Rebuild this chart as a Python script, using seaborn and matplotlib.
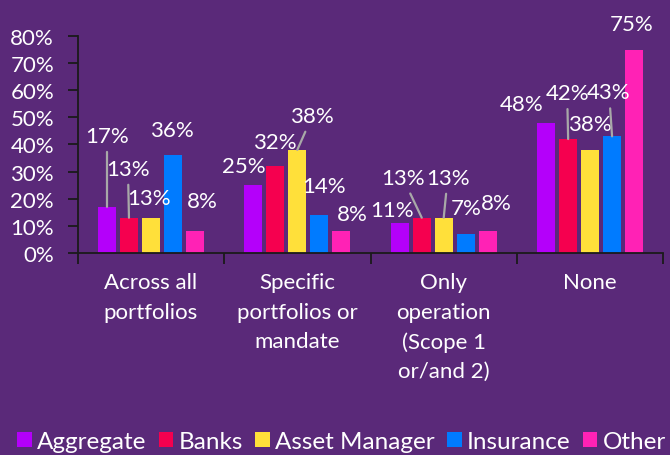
import matplotlib
matplotlib.use('Agg')
import matplotlib.pyplot as plt
import pandas as pd
import seaborn as sns

# data
categories = ['Across all\nportfolios', 'Specific\nportfolios or\nmandate',
              'Only\noperation\n(Scope 1\nor/and 2)', 'None']
series = ['Aggregate', 'Banks', 'Asset Manager', 'Insurance', 'Other']
aggregate = [17, 25, 11, 48]
banks = [13, 32, 13, 42]
asset_manager = [13, 38, 13, 38]
insurance = [36, 14, 7, 43]
other = [8, 8, 8, 75]
y_ticks = [0, 10, 20, 30, 40, 50, 60, 70, 80]

colors = ['#B400FA', '#F5004F', '#FFE03A', '#007BFF', '#FF22B5']
bg = '#5A2979'

# label placement (pixels from bar top), per category then series
label_offsets = [
    [(0, 71), (-1, 49), (-2, 20), (-1, 25), (7, 30)],
    [(-10, 19), (-1, 24), (15, 34), (5, 29), (11, 17)],
    [(-8, 13), (-19, 40), (4, 40), (1, 26), (9, 28)],
    [(-25, 19), (-1, 46), (0, 26), (-3, 44), (-2, 26)],
]
leaders = [(0, 0), (0, 1), (1, 2), (2, 1), (2, 2), (3, 1), (3, 3)]

rows = []
for name, vals in zip(series, [aggregate, banks, asset_manager, insurance, other]):
    for cat, v in zip(categories, vals):
        rows.append({'category': cat, 'series': name, 'value': v})
df = pd.DataFrame(rows)

sns.set_style('white')
plt.rcParams['font.family'] = ['Lato', 'DejaVu Sans']

fig = plt.figure(figsize=(6.7, 4.56), dpi=100, facecolor=bg)
ax = fig.add_axes([0.116, 0.443, 0.874, 0.476])
ax.set_facecolor(bg)

sns.barplot(data=df, x='category', y='value', hue='series', order=categories,
            hue_order=series, palette=colors, width=0.75, gap=0.18,
            saturation=1, linewidth=0, ax=ax)

ax.set_ylim(0, 80)
ax.set_xlim(-0.5, len(categories) - 0.5)
ax.set_yticks(y_ticks)
ax.set_yticklabels([f'{t}%' for t in y_ticks])
ax.set_xlabel('')
ax.set_ylabel('')

for s in ['top', 'right']:
    ax.spines[s].set_visible(False)
for s in ['left', 'bottom']:
    ax.spines[s].set_color('#1a1a1a')
    ax.spines[s].set_linewidth(1.3)

ax.tick_params(axis='y', colors='#1a1a1a', labelcolor='white', labelsize=16,
               length=7, width=1.3, direction='out', pad=10, left=True)
ax.tick_params(axis='x', which='major', length=0, labelcolor='white',
               labelsize=16, pad=14)
ax.set_xticks([i - 0.5 for i in range(len(categories) + 1)], minor=True)
ax.tick_params(axis='x', which='minor', length=8, width=1.3,
               color='#1a1a1a', direction='out', bottom=True)
for lbl in ax.get_xticklabels():
    lbl.set_linespacing(1.58)
    lbl.set_va('top')

# value labels
for si, cont in enumerate(ax.containers):
    for ci, bar in enumerate(cont):
        v = bar.get_height()
        x = bar.get_x() + bar.get_width() / 2
        dx, dy = label_offsets[ci][si]
        kw = {}
        if (ci, si) in leaders:
            kw['arrowprops'] = dict(arrowstyle='-', color='#A8A8A8', lw=1.6,
                                    shrinkA=2, shrinkB=0)
        ax.annotate(f'{v:.0f}%', xy=(x, v), xytext=(dx, dy),
                    textcoords='offset pixels', ha='center', va='center',
                    color='white', fontsize=16, **kw)

handles, labels = ax.get_legend_handles_labels()
ax.get_legend().remove()
fig.legend(handles, labels, loc='center', bbox_to_anchor=(0.51, 0.03),
           ncol=5, frameon=False, fontsize=17.5, labelcolor='white',
           handlelength=0.6, handleheight=0.6, handletextpad=0.22,
           columnspacing=0.5, borderaxespad=0)

fig.savefig('out.png', dpi=100, facecolor=bg)
